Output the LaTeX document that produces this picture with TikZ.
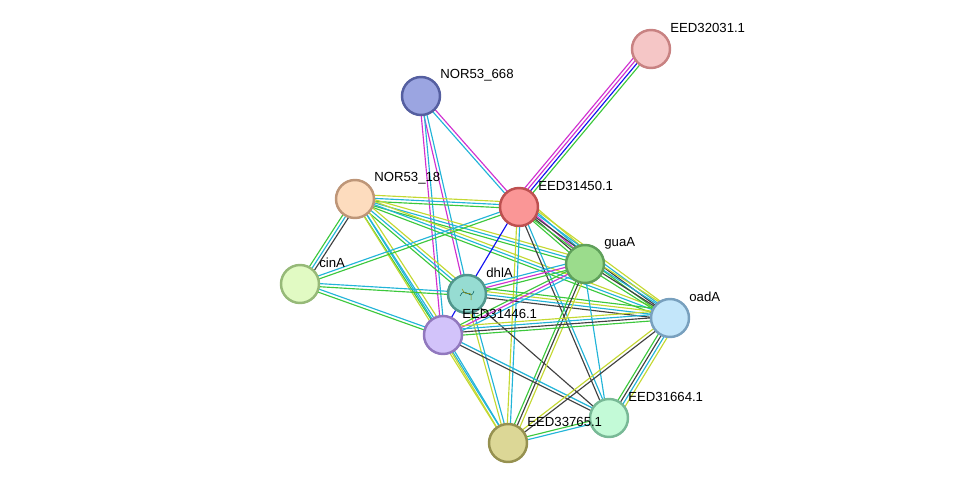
\documentclass[tikz,border=0pt]{standalone}
\usepackage{fontspec}
\setmainfont{Liberation Sans}
\usetikzlibrary{calc}

\definecolor{G}{HTML}{3CC83C}
\definecolor{C}{HTML}{22B4D8}
\definecolor{M}{HTML}{D030D0}
\definecolor{Y}{HTML}{C4D832}
\definecolor{K}{HTML}{404040}
\definecolor{B}{HTML}{1010F0}

% one coloured line per evidence channel
\newcommand\edge[3]{%
  \foreach \c [count=\i] in {#3} {%
    \draw[\c, line width=0.65pt] ($(#1)!{(\i-1.5)*0.062cm}!90:(#2)$) -- ($(#2)!{(\i-1.5)*0.062cm}!-90:(#1)$);
  }}

\begin{document}
\begin{tikzpicture}[x=0.02cm, y=-0.02cm,
  prot/.style={circle, draw, line width=1.4pt, minimum size=0.76cm, inner sep=0pt},
  lbl/.style={anchor=west, inner sep=0pt, font=\fontsize{7.5}{8}\selectfont}]

\useasboundingbox (0,0) rectangle (975,489);

\coordinate (n32031) at (651,49);
\coordinate (n668) at (421,96);
\coordinate (n18) at (355,199);
\coordinate (n450) at (519,207);
\coordinate (guaA) at (585,264);
\coordinate (cinA) at (300,284);
\coordinate (dhlA) at (467,294);
\coordinate (oadA) at (670,318);
\coordinate (n446) at (443,335);
\coordinate (n664) at (609,418);
\coordinate (n765) at (508,443);

\edge{n450}{n32031}{G,B,M,M}
\edge{n450}{n668}{M,C}
\edge{n668}{dhlA}{M,C}
\edge{n668}{n446}{M,C}
\edge{n18}{n450}{G,C,Y}
\edge{n18}{guaA}{G,C,Y}
\edge{n18}{oadA}{G,C,Y}
\edge{n18}{cinA}{G,C,K}
\edge{n18}{dhlA}{G,C,Y}
\edge{n18}{n446}{G,C,Y}
\edge{n18}{n765}{Y,C}
\edge{cinA}{n450}{G,C}
\edge{cinA}{dhlA}{G,C}
\edge{cinA}{n446}{G,C}
\edge{n450}{dhlA}{B}
\edge{n450}{guaA}{G,K,M,C,Y}
\edge{n450}{oadA}{G,K,C,Y}
\edge{n450}{n664}{K,C}
\edge{n450}{n765}{Y,C}
\edge{dhlA}{guaA}{G,M,C}
\edge{dhlA}{oadA}{K,C,Y,G}
\edge{dhlA}{n664}{K}
\edge{dhlA}{n765}{Y,C}
\edge{dhlA}{n446}{B}
\edge{guaA}{n446}{G,M,C}
\edge{guaA}{oadA}{G,K,C,Y}
\edge{guaA}{n765}{G,K,Y}
\edge{guaA}{n664}{C}
\edge{n446}{oadA}{G,K,C,Y}
\edge{n446}{n664}{K,C}
\edge{n446}{n765}{Y,C}
\edge{oadA}{n664}{G,K,C,Y}
\edge{oadA}{n765}{Y,K}
\edge{n664}{n765}{G,C}

\node[prot, fill={rgb,255:red,245;green,198;blue,198}, draw={rgb,255:red,200;green,130;blue,130}] at (n32031) {};
\node[prot, fill={rgb,255:red,155;green,165;blue,225}, draw={rgb,255:red,85;green,95;blue,160}] at (n668) {};
\node[prot, fill={rgb,255:red,253;green,220;blue,190}, draw={rgb,255:red,190;green,150;blue,120}] at (n18) {};
\node[prot, fill={rgb,255:red,250;green,150;blue,150}, draw={rgb,255:red,190;green,80;blue,80}] at (n450) {};
\node[prot, fill={rgb,255:red,155;green,220;blue,140}, draw={rgb,255:red,95;green,160;blue,90}] at (guaA) {};
\node[prot, fill={rgb,255:red,225;green,250;blue,195}, draw={rgb,255:red,150;green,185;blue,120}] at (cinA) {};
\node[prot, fill={rgb,255:red,150;green,220;blue,210}, draw={rgb,255:red,80;green,150;blue,140}] at (dhlA) {};
\node[prot, fill={rgb,255:red,195;green,230;blue,250}, draw={rgb,255:red,120;green,160;blue,190}] at (oadA) {};
\node[prot, fill={rgb,255:red,210;green,195;blue,250}, draw={rgb,255:red,145;green,120;blue,190}] at (n446) {};
\node[prot, fill={rgb,255:red,195;green,250;blue,215}, draw={rgb,255:red,120;green,185;blue,150}] at (n664) {};
\node[prot, fill={rgb,255:red,220;green,215;blue,150}, draw={rgb,255:red,150;green,145;blue,80}] at (n765) {};

% structure thumbnail inside dhlA
\draw[teal!70!black, line width=0.3pt] ($(dhlA)+(-7,2)$) .. controls ($(dhlA)+(-2,-9)$) and ($(dhlA)+(4,8)$) .. ($(dhlA)+(7,-3)$);
\draw[olive, line width=0.3pt] ($(dhlA)+(-5,-5)$) .. controls ($(dhlA)+(0,6)$) and ($(dhlA)+(5,-8)$) .. ($(dhlA)+(4,6)$);

\foreach \n/\t in {n32031/EED32031.1, n668/NOR53\_668, n18/NOR53\_18, n450/EED31450.1,
  guaA/guaA, cinA/cinA, dhlA/dhlA, oadA/oadA, n446/EED31446.1, n664/EED31664.1, n765/EED33765.1}
  \node[lbl] at ($(\n)+(19,-21)$) {\t};
\end{tikzpicture}
\end{document}
